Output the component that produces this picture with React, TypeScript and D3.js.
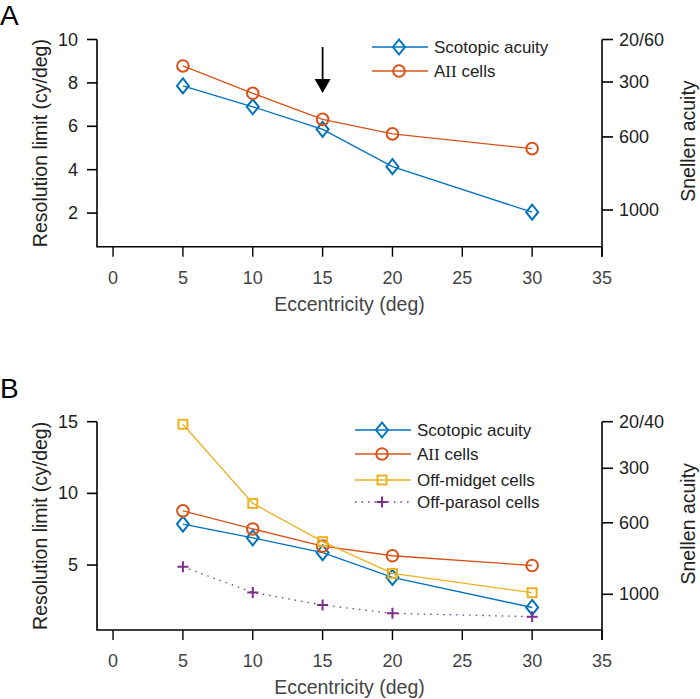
import React from "react";
import * as d3 from "d3";

// ---- data ----
const eccentricity = [5, 10, 15, 20, 30];
const scotopicAcuity = [7.86, 6.9, 5.86, 4.14, 2.04];
const aiiCells = [8.78, 7.52, 6.32, 5.65, 4.97];
const offMidgetCells = [14.82, 9.3, 6.63, 4.42, 3.07];
const offParasolCells = [4.88, 3.09, 2.21, 1.63, 1.4];

const xTicks = [0, 5, 10, 15, 20, 25, 30, 35];
const yTicksA = [2, 4, 6, 8, 10];
const yTicksB = [5, 10, 15];
const snellenLabelsA = ["20/60", "300", "600", "1000"];
const snellenAtA = [10, 8.04, 5.51, 2.14];
const snellenLabelsB = ["20/40", "300", "600", "1000"];
const snellenAtB = [15, 11.75, 7.95, 2.96];
const arrowAt = 15;

const BLUE = "#0072BD";
const ORANGE = "#D95319";
const GOLD = "#EDB120";
const PURPLE = "#7E2F8E";
const FONT = "'Liberation Sans', Arial, Helvetica, sans-serif";
const TXT = "#222";

type Series = { name: string; values: number[]; color: string; marker: string; dash?: string };

const seriesA: Series[] = [
  { name: "Scotopic acuity", values: scotopicAcuity, color: BLUE, marker: "diamond" },
  { name: "AII cells", values: aiiCells, color: ORANGE, marker: "circle" },
];
const seriesB: Series[] = [
  { name: "Scotopic acuity", values: scotopicAcuity, color: BLUE, marker: "diamond" },
  { name: "AII cells", values: aiiCells, color: ORANGE, marker: "circle" },
  { name: "Off-midget cells", values: offMidgetCells, color: GOLD, marker: "square" },
  { name: "Off-parasol cells", values: offParasolCells, color: PURPLE, marker: "plus", dash: "1.5,5" },
];

function Marker({ type, x, y, color }: { type: string; x: number; y: number; color: string }) {
  if (type === "circle")
    return <circle cx={x} cy={y} r={5.8} fill="none" stroke={color} strokeWidth={2} />;
  if (type === "diamond")
    return (
      <path
        d={`M${x},${y - 7.5}L${x + 6},${y}L${x},${y + 7.5}L${x - 6},${y}Z`}
        fill="none"
        stroke={color}
        strokeWidth={2}
      />
    );
  if (type === "square")
    return <rect x={x - 4.5} y={y - 4.5} width={9} height={9} fill="none" stroke={color} strokeWidth={2} />;
  return (
    <path d={`M${x - 5.5},${y}H${x + 5.5}M${x},${y - 5.5}V${y + 5.5}`} stroke={color} strokeWidth={2} />
  );
}

function Label({ name, x, y }: { name: string; x: number; y: number }) {
  if (name.startsWith("AII")) {
    return (
      <text x={x} y={y} fontSize={17} fontFamily={FONT} fill={TXT} dominantBaseline="central">
        A<tspan fontFamily="'Liberation Serif', 'DejaVu Serif', serif">II</tspan>
        {name.slice(3)}
      </text>
    );
  }
  return (
    <text x={x} y={y} fontSize={17} fontFamily={FONT} fill={TXT} dominantBaseline="central">
      {name}
    </text>
  );
}

type PanelProps = {
  letter: string;
  letterY: number;
  top: number;
  bottom: number;
  yDomain: [number, number];
  yTicks: number[];
  snellenLabels: string[];
  snellenAt: number[];
  series: Series[];
  legendX: number;
  legendYs: number[];
  arrow?: boolean;
};

function Panel(p: PanelProps) {
  const left = 97;
  const right = 602;
  const x = d3.scaleLinear().domain([-1.15, 35]).range([left, right]);
  const y = d3.scaleLinear().domain(p.yDomain).range([p.bottom, p.top]);
  const line = d3
    .line<number>()
    .x((_, i) => x(eccentricity[i]))
    .y((v) => y(v));
  const midY = (p.top + p.bottom) / 2;
  return (
    <g>
      <text x={0} y={p.letterY} fontSize={28} fontFamily={FONT} fill="#000">
        {p.letter}
      </text>
      {/* axes */}
      <path d={`M${left},${y(p.yDomain[1])}V${p.bottom}H${right}`} fill="none" stroke="#000" strokeWidth={1.6} />
      <path d={`M${right},${y(p.yDomain[1])}V${p.bottom + 10}`} fill="none" stroke="#000" strokeWidth={1.6} />
      {p.yTicks.map((t) => (
        <g key={"y" + t}>
          <line x1={left - 10} x2={left} y1={y(t)} y2={y(t)} stroke="#000" strokeWidth={1.6} />
          <text
            x={left - 19}
            y={y(t)}
            textAnchor="end"
            dominantBaseline="central"
            fontSize={18}
            fontFamily={FONT}
            fill={TXT}
          >
            {t}
          </text>
        </g>
      ))}
      {xTicks.map((t) => (
        <g key={"x" + t}>
          <line x1={x(t)} x2={x(t)} y1={p.bottom} y2={p.bottom + 10} stroke="#000" strokeWidth={1.4} />
          <text x={x(t)} y={p.bottom + 37} textAnchor="middle" fontSize={18} fontFamily={FONT} fill="#444">
            {t}
          </text>
        </g>
      ))}
      {p.snellenLabels.map((s, i) => (
        <g key={"s" + s}>
          <line x1={right} x2={right + 11} y1={y(p.snellenAt[i])} y2={y(p.snellenAt[i])} stroke="#000" strokeWidth={1.6} />
          <text
            x={right + 17}
            y={y(p.snellenAt[i])}
            dominantBaseline="central"
            fontSize={18}
            fontFamily={FONT}
            fill={TXT}
          >
            {s}
          </text>
        </g>
      ))}
      <text
        transform={`translate(40,${midY}) rotate(-90)`}
        textAnchor="middle"
        dominantBaseline="central"
        fontSize={19.5}
        fontFamily={FONT}
        fill={TXT}
      >
        Resolution limit (cy/deg)
      </text>
      <text
        transform={`translate(688,${midY - 2}) rotate(-90)`}
        textAnchor="middle"
        dominantBaseline="central"
        fontSize={19.5}
        fontFamily={FONT}
        fill={TXT}
      >
        Snellen acuity
      </text>
      <text x={(left + right) / 2} y={p.bottom + 64} textAnchor="middle" fontSize={19.5} fontFamily={FONT} fill="#444">
        Eccentricity (deg)
      </text>
      {/* series */}
      {p.series.map((s) => (
        <g key={s.name}>
          <path d={line(s.values) || ""} fill="none" stroke={s.color} strokeWidth={1.3} strokeDasharray={s.dash} />
          {s.values.map((v, i) => (
            <Marker key={i} type={s.marker} x={x(eccentricity[i])} y={y(v)} color={s.color} />
          ))}
        </g>
      ))}
      {p.arrow && (
        <g>
          <line x1={x(arrowAt)} x2={x(arrowAt)} y1={47} y2={82} stroke="#000" strokeWidth={1.8} />
          <path d={`M${x(arrowAt) - 8},${79}L${x(arrowAt) + 8},${79}L${x(arrowAt)},${93}Z`} fill="#000" />
        </g>
      )}
      {/* legend */}
      {p.series.map((s, i) => {
        const ly = p.legendYs[i];
        const lx = p.legendX;
        return (
          <g key={"l" + s.name}>
            <line x1={lx} x2={lx + 56} y1={ly} y2={ly} stroke={s.color} strokeWidth={1.3} strokeDasharray={s.dash} />
            <Marker type={s.marker} x={lx + 27} y={ly} color={s.color} />
            <Label name={s.name} x={lx + 62} y={ly} />
          </g>
        );
      })}
    </g>
  );
}

export default function App() {
  return (
    <svg width={700} height={699} style={{ position: "absolute", left: 0, top: 0, background: "#fff" }}>
      <rect width={700} height={699} fill="#fff" />
      <Panel
        letter="A"
        letterY={25}
        top={39.5}
        bottom={246.7}
        yDomain={[0.45, 10]}
        yTicks={yTicksA}
        snellenLabels={snellenLabelsA}
        snellenAt={snellenAtA}
        series={seriesA}
        legendX={372}
        legendYs={[47, 71]}
        arrow
      />
      <Panel
        letter="B"
        letterY={398}
        top={421.7}
        bottom={630}
        yDomain={[0.47, 15]}
        yTicks={yTicksB}
        snellenLabels={snellenLabelsB}
        snellenAt={snellenAtB}
        series={seriesB}
        legendX={355}
        legendYs={[430, 454, 480, 502]}
      />
    </svg>
  );
}
